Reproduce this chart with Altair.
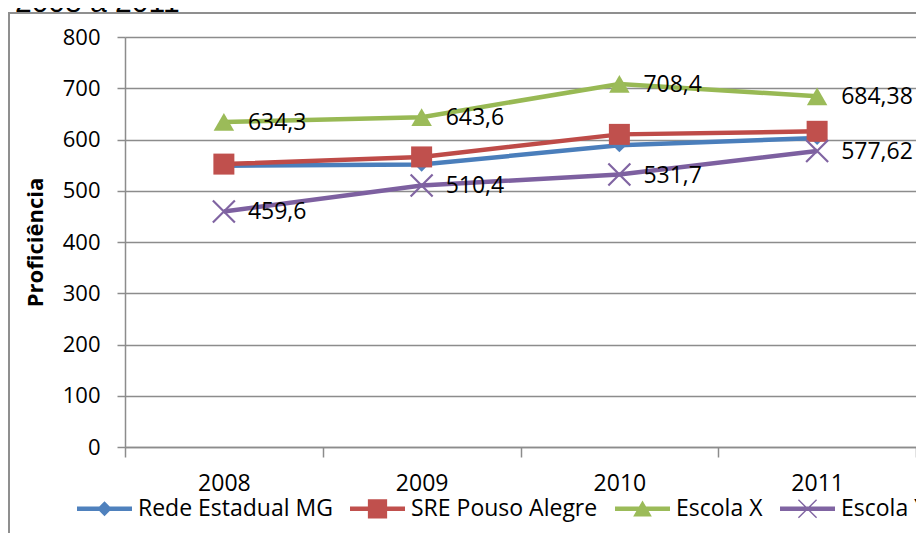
import altair as alt
import pandas as pd

anos = ["2008", "2009", "2010", "2011"]
series = ["Rede Estadual MG", "SRE Pouso Alegre", "Escola X", "Escola Y"]
rede_estadual = [549, 551, 589, 603]
sre_pouso_alegre = [552, 566, 610, 616]
escola_x = [634.3, 643.6, 708.4, 684.38]
escola_y = [459.6, 510.4, 531.7, 577.62]
rotulos_escola_x = ["634,3", "643,6", "708,4", "684,38"]
rotulos_escola_y = ["459,6", "510,4", "531,7", "577,62"]
y_ticks = [0, 100, 200, 300, 400, 500, 600, 700, 800]
titulo_fragmento = "2008 a 2011"

line_colors = ["#4A7EBB", "#BE4B48", "#98B954", "#7D60A0"]
fill_colors = ["#4F81BD", "#C0504D", "#9BBB59", "#8064A2"]

X_PATH = "M-1,-1L1,1M-1,1L1,-1"
marker_shapes = ["diamond", "square", "triangle-up", X_PATH]
marker_sizes = [200, 441, 420, 484]

BAR = "M-1,-0.08L1,-0.08L1,0.08L-1,0.08Z "
legend_paths = [
    BAR + "M0,-0.27L0.27,0L0,0.27L-0.27,0Z",
    BAR + "M-0.35,-0.35L0.35,-0.35L0.35,0.35L-0.35,0.35Z",
    BAR + "M0,-0.3L0.34,0.28L-0.34,0.28Z",
    BAR + "M-0.312,-0.348L0.348,0.312L0.312,0.348L-0.348,-0.312Z "
          "M0.348,-0.312L-0.312,0.348L-0.348,0.312L0.312,-0.348Z",
]

valores = [rede_estadual, sre_pouso_alegre, escola_x, escola_y]
rotulos = [["", "", "", ""], ["", "", "", ""], rotulos_escola_x, rotulos_escola_y]

rows = []
for s, vals, rots in zip(series, valores, rotulos):
    for a, v, r in zip(anos, vals, rots):
        rows.append({"ano": a, "serie": s, "valor": v, "rotulo": r})
df = pd.DataFrame(rows)

FONT = "Open Sans"
GRAY = "#8c8c8c"

x_enc = alt.X(
    "ano:N",
    sort=anos,
    scale=alt.Scale(type="band", domain=anos, paddingInner=0, paddingOuter=0),
    axis=alt.Axis(
        title=None, labelAngle=0, tickBand="extent", tickSize=10, labelPadding=15,
        labelFont=FONT, labelFontSize=23, labelColor="black",
        domainColor=GRAY, tickColor=GRAY, domainWidth=1.5, tickWidth=1.5,
        grid=False,
    ),
)
y_enc = alt.Y(
    "valor:Q",
    scale=alt.Scale(domain=[0, 800], nice=False),
    axis=alt.Axis(
        title="Proficiência", values=y_ticks, tickSize=8, labelPadding=17,
        labelFont=FONT, labelFontSize=22, labelColor="black",
        titleFont=FONT, titleFontSize=22, titleFontWeight="bold", titleColor="black",
        titlePadding=15,
        domainColor=GRAY, tickColor=GRAY, domainWidth=1.5, tickWidth=1.5,
        grid=True, gridColor=GRAY, gridWidth=1.5,
    ),
)

base = alt.Chart(df)

layers = []

# outer frame (left and top edges; the others lie outside the picture)
frame_df = pd.DataFrame({"k": [0]})
frame_left = alt.Chart(frame_df).mark_rule(stroke="#8f8f8f", strokeWidth=2).encode(
    x=alt.value(-116), y=alt.value(-24), y2=alt.value(506)
)
frame_top = alt.Chart(frame_df).mark_rule(stroke="#8f8f8f", strokeWidth=2).encode(
    x=alt.value(-117), x2=alt.value(799), y=alt.value(-24)
)
layers += [frame_left, frame_top]

# clipped title fragment above the frame
titulo = alt.Chart(pd.DataFrame({"t": [titulo_fragmento]})).mark_text(
    font="Liberation Sans", fontSize=30, align="left", baseline="alphabetic", color="black"
).encode(x=alt.value(-110), y=alt.value(-25), text="t:N")
layers.append(titulo)

for s, lc in zip(series, line_colors):
    layers.append(
        base.transform_filter(alt.datum.serie == s)
        .mark_line(color=lc, strokeWidth=4.5)
        .encode(x=x_enc, y=y_enc)
    )

for s, fc, shp, sz in zip(series, fill_colors, marker_shapes, marker_sizes):
    if shp == X_PATH:
        mk = base.transform_filter(alt.datum.serie == s).mark_point(
            shape=shp, filled=False, stroke=fc, strokeWidth=2.2, size=sz, opacity=1
        )
    else:
        mk = base.transform_filter(alt.datum.serie == s).mark_point(
            shape=shp, filled=True, fill=fc, strokeWidth=0, size=sz, opacity=1
        )
    layers.append(mk.encode(x=x_enc, y=y_enc))

labels = base.transform_filter(alt.datum.rotulo != "").mark_text(
    align="left", baseline="middle", dx=24, dy=1, font=FONT, fontSize=23, color="black"
).encode(x=x_enc, y=y_enc, text="rotulo:N")
layers.append(labels)

legenda = alt.Legend(
    orient="none", legendX=-48, legendY=444, direction="horizontal", title=None,
    symbolSize=3025, symbolStrokeWidth=0, labelFont=FONT, labelFontSize=23,
    labelColor="black", labelOffset=6, columnPadding=17, padding=0, labelLimit=0,
)
leg_layer = base.transform_filter("false").mark_point(filled=True, opacity=1).encode(
    x=x_enc,
    y=y_enc,
    color=alt.Color("serie:N", scale=alt.Scale(domain=series, range=fill_colors), legend=legenda),
    shape=alt.Shape("serie:N", scale=alt.Scale(domain=series, range=legend_paths), legend=legenda),
)
layers.append(leg_layer)

chart = alt.layer(*layers).properties(
    width=791,
    height=410,
    autosize=alt.AutoSizeParams(type="none"),
    padding={"left": 117, "top": 29, "right": 0, "bottom": 86},
).configure_view(stroke=None)

chart.save("out.html", embed_options={"renderer": "svg", "actions": False})
